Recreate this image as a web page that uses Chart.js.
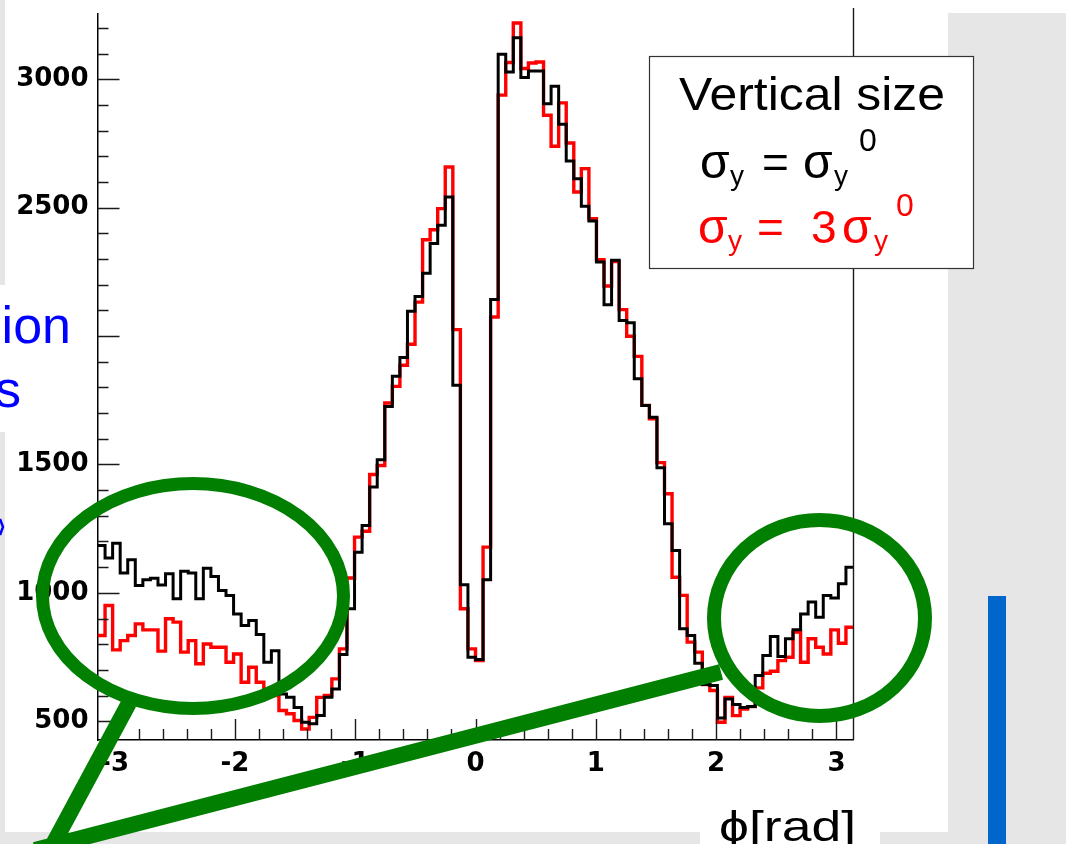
<!DOCTYPE html>
<html>
<head>
<meta charset="utf-8">
<title>phi distribution</title>
<script src="https://cdn.jsdelivr.net/npm/chart.js@4.4.1/dist/chart.umd.min.js"></script>
<style>
html,body{margin:0;padding:0;background:#fff;}
canvas{display:block;}
</style>
</head>
<body>
<canvas id="phiChart" width="1066" height="844"></canvas>
<script>
/* =====================================
   HISTOGRAM DATA (100 bins over -pi..pi)
===================================== */

const PHI_MIN = -Math.PI;
const PHI_MAX = Math.PI;

// sigma_y = sigma_y0 (black)
const countsNominal = [
    1184, 1136, 1193, 1077, 1129, 1029, 1051, 1057, 1031, 1074,
     977, 1084, 1077,  977, 1096, 1064, 1009,  990,  918,  873,
     892,  838,  730,  775,  606,  593,  554,  496,  490,  522,
     593,  626,  760,  938, 1158, 1262, 1412, 1518, 1726, 1843,
    1916, 2097, 2154, 2245, 2360, 2431, 2541, 1808, 1032,  749,
     740, 1051, 2142, 3097, 3028, 3162, 3007, 3032, 3032, 2905,
    2973, 2825, 2682, 2613, 2505, 2448, 2288, 2122, 2295, 2061,
    2052, 1834, 1730, 1684, 1487, 1269, 1165,  860,  834,  726,
     643,  639,  513,  587,  565,  554,  557,  678,  756,  830,
     752,  821,  856,  918,  964,  905,  990,  980, 1035, 1100
];

// sigma_y = 3 sigma_y0 (red)
const countsTriple = [
     834,  951,  778,  814,  834,  879,  856,  856,  773,  899,
     886,  769,  814,  724,  801,  788,  788,  730,  762,  652,
     710,  652,  626,  600,  542,  529,  503,  470,  515,  593,
     600,  665,  782, 1058, 1217, 1240, 1461, 1496, 1739, 1804,
    1886, 1968, 2132, 2375, 2414, 2496, 2658, 2025,  938,  782,
     736, 1178, 2074, 2938, 3065, 3219, 3042, 3063, 3067, 2860,
    2739, 2908, 2752, 2561, 2652, 2457, 2297, 2195, 2290, 2103,
    1999, 1921, 1730, 1678, 1507, 1386, 1061,  990,  808,  769,
     643,  620,  496,  593,  522,  548,  557,  630,  687,  695,
     736,  749,  847,  730,  821,  788,  762,  856,  804,  866
];

const xTickLabels = [-3, -2, -1, 0, 1, 2, 3];
const yTickLabels = [500, 1000, 1500, 2000, 2500, 3000];

const Y_MIN = 427;
const Y_MAX = 3256;

/* =====================================
   HELPERS
===================================== */

// bin contents -> step points at the lower bin edges, closed at phi max
function histPoints(counts){

    const w = (PHI_MAX - PHI_MIN) / counts.length;

    const pts = counts.map((c, i) => ({ x: PHI_MIN + i * w, y: c }));

    pts.push({ x: PHI_MAX, y: counts[counts.length - 1] });

    return pts;

}

function stepValues(from, to, step){

    const out = [];

    for(let k = 0; from + k * step <= to + 1e-9; k++){
        out.push(Math.round((from + k * step) * 1000) / 1000);
    }

    return out;

}

// draw text squeezed/stretched to a given width
function fitText(ctx, text, x, y, width){

    const w = ctx.measureText(text).width;

    ctx.save();
    ctx.translate(x, y);
    ctx.scale(width / w, 1);
    ctx.fillText(text, 0, 0);
    ctx.restore();

}

/* =====================================
   SLIDE DECORATION
===================================== */

function drawBackdrop(ctx){

    ctx.save();

    ctx.fillStyle = "#ffffff";
    ctx.fillRect(0, 0, 1066, 844);

    ctx.fillStyle = "#e6e6e6";
    ctx.fillRect(948, 13, 118, 831);
    ctx.fillRect(0, 832, 700, 12);
    ctx.fillRect(880, 832, 68, 12);
    ctx.fillRect(0, 0, 5, 285);
    ctx.fillRect(0, 432, 5, 400);

    ctx.restore();

}

function drawTickMarks(chart){

    const ctx = chart.ctx;
    const xs = chart.scales.x;
    const ys = chart.scales.y;
    const area = chart.chartArea;

    ctx.save();
    ctx.strokeStyle = "#1a1a1a";
    ctx.lineWidth = 1.4;
    ctx.beginPath();

    stepValues(-3, 3, 0.2).forEach(v => {
        const px = Math.round(xs.getPixelForValue(v)) + 0.5;
        const len = Number.isInteger(v) ? 21 : 11;
        ctx.moveTo(px, area.bottom);
        ctx.lineTo(px, area.bottom - len);
    });

    stepValues(500, 3200, 100).forEach(v => {
        const py = Math.round(ys.getPixelForValue(v)) + 0.5;
        const len = v % 500 === 0 ? 22 : 11;
        ctx.moveTo(area.left, py);
        ctx.lineTo(area.left + len, py);
    });

    // right frame
    ctx.moveTo(area.right, 8);
    ctx.lineTo(area.right, area.bottom);

    ctx.stroke();
    ctx.restore();

}

function drawLegend(ctx){

    ctx.save();

    ctx.fillStyle = "#ffffff";
    ctx.fillRect(649, 56, 324, 212);
    ctx.strokeStyle = "#333333";
    ctx.lineWidth = 1.2;
    ctx.strokeRect(649.5, 56.5, 324, 212);

    ctx.textBaseline = "alphabetic";
    ctx.fillStyle = "#000000";
    ctx.font = "46px 'Liberation Sans', Arial, sans-serif";
    fitText(ctx, "Vertical size", 679, 110, 266);

    const rows = [
        { color: "#000000", base: 178, parts: [
            ["σ", 700, 0, 48], ["y", 730, 7, 28], ["=", 762, 0, 46],
            ["σ", 803, 0, 48], ["y", 834, 7, 28], ["0", 859, -27, 32]
        ]},
        { color: "#ff0000", base: 243, parts: [
            ["σ", 698, 0, 48], ["y", 728, 7, 28], ["=", 757, 0, 46],
            ["3", 811, 0, 46], ["σ", 842, 0, 48], ["y", 874, 7, 28], ["0", 896, -27, 32]
        ]}
    ];

    rows.forEach(row => {
        ctx.fillStyle = row.color;
        row.parts.forEach(([t, x, dy, size]) => {
            ctx.font = size + "px 'Liberation Sans', Arial, sans-serif";
            ctx.fillText(t, x, row.base + dy);
        });
    });

    ctx.restore();

}

function drawSideNotes(ctx){

    ctx.save();

    // text box from the slide, covering the left margin
    ctx.fillStyle = "#ffffff";
    ctx.fillRect(0, 285, 95, 147);

    ctx.fillStyle = "#0000ff";
    ctx.font = "52px 'Liberation Sans', Arial, sans-serif";
    ctx.textAlign = "right";
    ctx.fillText("ion", 71, 343);
    ctx.fillText("s", 21, 407);

    ctx.strokeStyle = "#0000ff";
    ctx.lineWidth = 2.5;
    ctx.beginPath();
    ctx.moveTo(0, 519);
    ctx.lineTo(3, 527);
    ctx.lineTo(0, 535);
    ctx.stroke();

    ctx.restore();

}

function drawCallouts(ctx){

    ctx.save();

    ctx.strokeStyle = "#007f00";

    ctx.lineWidth = 13;
    ctx.beginPath();
    ctx.ellipse(193, 596, 150.5, 112.5, 0, 0, Math.PI * 2);
    ctx.stroke();

    ctx.lineWidth = 14;
    ctx.beginPath();
    ctx.ellipse(819.5, 618, 105.5, 98, 0, 0, Math.PI * 2);
    ctx.stroke();

    ctx.lineWidth = 16;
    ctx.lineCap = "butt";
    ctx.beginPath();
    ctx.moveTo(129, 703);
    ctx.lineTo(50, 850);
    ctx.moveTo(721, 672);
    ctx.lineTo(35, 850);
    ctx.stroke();

    // blue bar on the slide
    ctx.fillStyle = "#0066cc";
    ctx.fillRect(988, 596, 18, 248);

    ctx.restore();

}

function drawAxisTitle(ctx){

    ctx.save();
    ctx.fillStyle = "#000000";
    ctx.font = "42px 'Liberation Sans', Arial, sans-serif";
    ctx.textBaseline = "alphabetic";
    fitText(ctx, "ϕ[rad]", 719, 841, 137);
    ctx.restore();

}

const slidePlugin = {

    id: "slideDecor",

    beforeDraw(chart){
        drawBackdrop(chart.ctx);
    },

    afterDraw(chart){
        drawTickMarks(chart);
        drawLegend(chart.ctx);
        drawSideNotes(chart.ctx);
        drawCallouts(chart.ctx);
        drawAxisTitle(chart.ctx);
    }

};

/* =====================================
   CHART
===================================== */

const tickFont = { family: "'DejaVu Sans', sans-serif", weight: "bold", size: 26 };

new Chart(document.getElementById("phiChart"), {

    type: "line",

    data: {
        datasets: [
            {
                label: "σy = σy0",
                data: histPoints(countsNominal),
                borderColor: "#000000",
                borderWidth: 3,
                stepped: "before",
                pointRadius: 0,
                fill: false
            },
            {
                label: "σy = 3σy0",
                data: histPoints(countsTriple),
                borderColor: "#ff0000",
                borderWidth: 3.4,
                stepped: "before",
                pointRadius: 0,
                fill: false
            }
        ]
    },

    options: {

        responsive: false,
        animation: false,
        parsing: false,

        layout: {
            padding: { left: 0, right: 212.5, top: 13.5, bottom: 0 }
        },

        plugins: {
            legend: { display: false },
            tooltip: { enabled: false }
        },

        scales: {

            x: {
                type: "linear",
                min: PHI_MIN,
                max: PHI_MAX,
                afterBuildTicks: s => { s.ticks = xTickLabels.map(v => ({ value: v })); },
                afterFit: s => {
                    s.height = 104;
                    s.paddingLeft = 0;
                    s.paddingRight = 0;
                },
                grid: { display: false, drawTicks: false },
                border: { display: true, color: "#000000", width: 1.5 },
                ticks: {
                    autoSkip: false,
                    maxRotation: 0,
                    padding: 9,
                    color: "#000000",
                    font: tickFont,
                    callback: v => String(v)
                }
            },

            y: {
                type: "linear",
                min: Y_MIN,
                max: Y_MAX,
                afterBuildTicks: s => { s.ticks = yTickLabels.map(v => ({ value: v })); },
                afterFit: s => {
                    s.width = 97.5;
                    s.paddingTop = 0;
                    s.paddingBottom = 0;
                },
                grid: { display: false, drawTicks: false },
                border: { display: true, color: "#000000", width: 1.5 },
                ticks: {
                    padding: 9,
                    color: "#000000",
                    font: tickFont,
                    callback: v => String(v)
                }
            }

        }

    },

    plugins: [slidePlugin]

});
</script>
</body>
</html>
